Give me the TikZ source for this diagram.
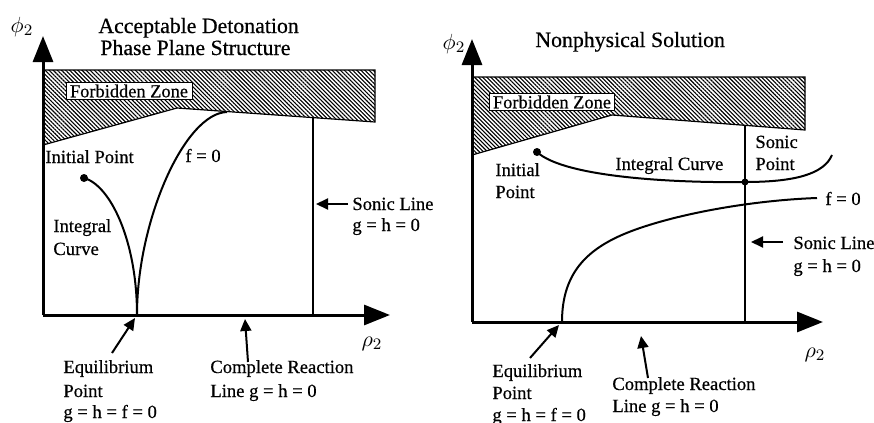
\documentclass[tikz,border=0pt]{standalone}
\usepackage{fontspec}
\setmainfont{Liberation Serif}[FakeBold=0.5]
\usetikzlibrary{arrows.meta,patterns.meta}
\begin{document}
\begin{tikzpicture}[x=0.5pt,y=-0.5pt,
  lbl/.style={anchor=base west, inner sep=0, font=\fontsize{9.3}{11}\selectfont},
  ttl/.style={anchor=base west, inner sep=0, font=\fontsize{10.9}{12}\selectfont},
  axis/.style={line width=1.5pt, -{Triangle[length=13pt,width=10pt]}},
  curve/.style={line width=1pt},
  sonic/.style={line width=0.8pt},
  ptr/.style={line width=1pt, -{Triangle[length=6pt,width=5.5pt]}},
  hatch/.style={draw=black, line width=0.6pt, pattern={Lines[angle=-45,distance=1.45pt,line width=0.55pt]}},
  zone/.style={draw, fill=white, line width=0.5pt, inner xsep=1.5pt, inner ysep=0.8pt, font=\fontsize{9.2}{11}\selectfont},
  dot/.style={circle, fill=black, inner sep=0, minimum size=4pt},
  greek/.style={inner sep=0, font=\fontsize{11}{12}\selectfont}
]
\useasboundingbox (0,0) rectangle (874,423);

% ================= LEFT PANEL =================
\coordinate (oL) at (43,315);
\coordinate (yL) at (43,36);
\coordinate (xL) at (390,315);
\coordinate (eqL) at (137,315);

\path[hatch] (43,70) -- (375,70) -- (375,122) -- (177,108) -- (43,145) -- cycle;
\node[zone, minimum width=63pt] (fzL) at (129,91) {Forbidden Zone};

\coordinate (sTopL) at (313,117.5);
\coordinate (sBotL) at (313,315);
\draw[sonic] (sTopL) -- (sBotL);

\node[dot] (ipL) at (84,178) {};
\draw[curve] (ipL.center) .. controls (110,185) and (137,240) .. (eqL);
\draw[curve] (eqL) .. controls (137,220) and (185,113) .. (227,112);

\draw[axis] (oL) -- (yL);
\draw[axis] (oL) -- (xL);

\node[greek] (phiL) at (22,27) {$\phi_2$};
\node[greek] (rhoL) at (372,344) {$\rho_2$};

\node[ttl] (t1a) at (98,33) {Acceptable Detonation};
\node[ttl] (t1b) at (100,55) {Phase Plane Structure};

\node[lbl] (ipLa) at (45,163) {Initial Point};
\node[lbl] (f0L) at (185,162) {f = 0};
\node[lbl] (icLa) at (53,232) {Integral};
\node[lbl] (icLb) at (53,255) {Curve};

\node[lbl] (slLa) at (352,210) {Sonic Line};
\node[lbl] (slLb) at (352,231) {g = h = 0};
\coordinate (slTailL) at (348,204);
\coordinate (slTipL) at (316,204);
\draw[ptr] (slTailL) -- (slTipL);

\node[lbl] (eqLa) at (63,373) {Equilibrium};
\node[lbl] (eqLb) at (63,397) {Point};
\node[lbl] (eqLc) at (63,418) {g = h = f = 0};
\coordinate (eqTailL) at (112,353);
\coordinate (eqTipL) at (135,318);
\draw[ptr] (eqTailL) -- (eqTipL);

\node[lbl] (crLa) at (210,373) {Complete Reaction};
\node[lbl] (crLb) at (210,397) {Line g = h = 0};
\coordinate (crTailL) at (248,362);
\coordinate (crTipL) at (245,319);
\draw[ptr] (crTailL) -- (crTipL);

% ================= RIGHT PANEL =================
\coordinate (oR) at (472,322);
\coordinate (yR) at (472,39);
\coordinate (xR) at (823,322);
\coordinate (eqR) at (562,322);

\path[hatch] (472,77) -- (805,77) -- (805,130) -- (612,115) -- (472,155) -- cycle;
\node[zone] (fzR) at (552,102) {Forbidden Zone};

\coordinate (sTopR) at (745,125.5);
\coordinate (sBotR) at (745,322);
\draw[sonic] (sTopR) -- (sBotR);

\node[dot] (ipR) at (537,152) {};
\node[dot, minimum size=3.5pt] (spR) at (745,182) {};
\draw[curve] (ipR.center) .. controls (565,178) and (680,183) .. (spR.center)
  .. controls (795,182) and (824,174) .. (832,155);
\draw[curve] (eqR) .. controls (562,270) and (590,245) .. (640,228)
  .. controls (690,211) and (760,200) .. (817,198);

\draw[axis] (oR) -- (yR);
\draw[axis] (oR) -- (xR);

\node[greek] (phiR) at (454,44) {$\phi_2$};
\node[greek] (rhoR) at (815,355) {$\rho_2$};

\node[ttl] (t2) at (535,47) {Nonphysical Solution};

\node[lbl] (ipRa) at (495,176) {Initial};
\node[lbl] (ipRb) at (495,198) {Point};
\node[lbl] (icR) at (615,170) {Integral Curve};
\node[lbl] (spRa) at (755,148) {Sonic};
\node[lbl] (spRb) at (755,170) {Point};
\node[lbl] (f0R) at (825,205) {f = 0};

\node[lbl] (slRa) at (793,249) {Sonic Line};
\node[lbl] (slRb) at (793,272) {g = h = 0};
\coordinate (slTailR) at (783,242);
\coordinate (slTipR) at (751,242);
\draw[ptr] (slTailR) -- (slTipR);

\node[lbl] (eqRa) at (492,377) {Equilibrium};
\node[lbl] (eqRb) at (492,399) {Point};
\node[lbl] (eqRc) at (492,421) {g = h = f = 0};
\coordinate (eqTailR) at (530,358);
\coordinate (eqTipR) at (559,325);
\draw[ptr] (eqTailR) -- (eqTipR);

\node[lbl] (crRa) at (612,390) {Complete Reaction};
\node[lbl] (crRb) at (612,412) {Line g = h = 0};
\coordinate (crTailR) at (648,378);
\coordinate (crTipR) at (641,336);
\draw[ptr] (crTailR) -- (crTipR);
\end{tikzpicture}
\end{document}
